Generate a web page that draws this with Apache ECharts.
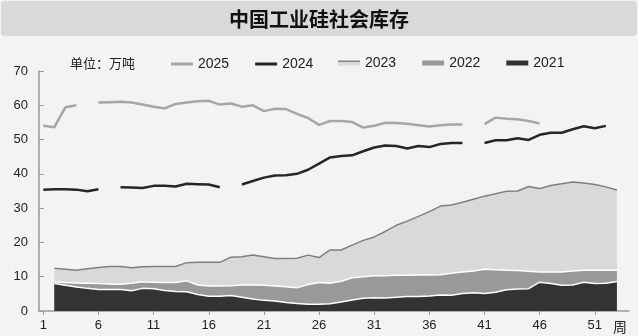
<!DOCTYPE html>
<html><head><meta charset="utf-8">
<script src="https://cdn.jsdelivr.net/npm/echarts@6/dist/echarts.min.js"></script>
<style>html,body{margin:0;padding:0;background:#f3f3f3;}#c{width:638px;height:336px;}</style>
</head><body><div id="c"></div>
<script>
const chartTitle = '中国工业硅社会库存';
const unitLabel = '单位：万吨';
const xAxisName = '周';
const weeks = [1,2,3,4,5,6,7,8,9,10,11,12,13,14,15,16,17,18,19,20,21,22,23,24,25,26,27,28,29,30,31,32,33,34,35,36,37,38,39,40,41,42,43,44,45,46,47,48,49,50,51,52,53];
const xTicks = [1,6,11,16,21,26,31,36,41,46,51];
const seriesNames = ['2025','2024','2023','2022','2021'];
const s2025 = [54.0,53.6,59.4,60.0,null,60.8,60.9,61.0,60.8,60.2,59.6,59.1,60.4,60.8,61.2,61.3,60.2,60.5,59.6,60.0,58.3,59.0,58.9,57.5,56.3,54.3,55.4,55.4,55.1,53.5,54.0,54.9,54.8,54.6,54.2,53.8,54.2,54.4,54.4,null,54.5,56.4,56.1,55.9,55.4,54.7,null,null,null,null,null,null,null];
const s2024 = [35.4,35.5,35.5,35.4,34.9,35.5,null,36.1,36.0,35.9,36.5,36.5,36.3,37.1,37.0,36.9,36.1,null,36.9,37.9,38.9,39.5,39.6,40.0,41.2,43.0,44.8,45.2,45.4,46.6,47.7,48.3,48.1,47.4,48.1,47.8,48.7,49.0,49.0,null,49.0,49.8,49.8,50.4,49.9,51.4,52.0,52.0,53.0,53.9,53.3,54.0,null];
const s2023 = [null,12.5,12.2,11.9,12.3,12.7,13.0,13.0,12.6,12.9,13.0,13.0,13.0,14.1,14.2,14.2,14.2,15.7,15.8,16.3,15.8,15.3,15.3,15.4,16.3,15.6,17.8,17.8,19.2,20.6,21.6,23.2,25.0,26.2,27.6,29.0,30.6,30.9,31.7,32.6,33.5,34.2,34.9,35.0,36.3,35.7,36.6,37.1,37.6,37.3,36.9,36.2,35.3];
const s2022 = [null,8.5,8.3,8.2,8.1,8.0,7.9,7.8,8.1,8.5,8.4,8.3,8.3,8.8,7.6,7.3,7.3,7.4,7.6,7.6,7.5,7.3,7.1,6.8,7.7,8.3,8.1,8.7,9.7,10.0,10.3,10.3,10.4,10.4,10.5,10.5,10.6,11.0,11.4,11.7,12.2,12.0,11.9,11.8,11.6,11.4,11.4,11.4,11.7,11.9,11.9,11.9,11.9];
const s2021 = [null,8.0,7.5,7.0,6.6,6.3,6.3,6.3,5.9,6.6,6.5,6.0,5.7,5.6,4.8,4.3,4.3,4.5,4.0,3.5,3.1,2.9,2.5,2.2,2.0,2.0,2.1,2.6,3.2,3.7,3.9,3.8,4.0,4.2,4.2,4.4,4.7,4.6,5.1,5.3,5.1,5.5,6.2,6.4,6.5,8.4,8.0,7.5,7.6,8.4,8.0,8.1,8.6];

const pairs = arr => weeks.map((w, i) => [w, arr[i]]);
const FONT = '"Liberation Sans", Arial, "Noto Sans CJK SC", sans-serif';
const CJK = '"Noto Sans CJK SC", sans-serif';

const chart = echarts.init(document.getElementById('c'), null, {renderer: 'canvas'});
const option = {
  animation: false,
  backgroundColor: '#f3f3f3',
  textStyle: {fontFamily: FONT},
  graphic: [
    {type: 'rect', shape: {x: 1, y: 1, width: 636, height: 35, r: 4}, style: {fill: '#d9d9d9'}, z: -1},
    {type: 'text', x: 319, y: 19, style: {text: chartTitle, font: 'bold 20px ' + CJK, fill: '#111', align: 'center', verticalAlign: 'middle'}},
    {type: 'text', x: 70, y: 63, style: {text: unitLabel, font: '13px ' + CJK, fill: '#222', verticalAlign: 'middle'}},
    {type: 'text', x: 620, y: 327, style: {text: xAxisName, font: '14px ' + CJK, fill: '#222', align: 'center', verticalAlign: 'middle'}}
  ],
  legend: [
    {left: 166, top: 52, itemWidth: 22, itemHeight: 3, itemGap: 26,
     textStyle: {fontSize: 14, color: '#222', fontFamily: FONT},
     data: [
       {name: seriesNames[0], icon: 'rect', itemStyle: {color: '#a6a6a6'}},
       {name: seriesNames[1], icon: 'rect', itemStyle: {color: '#262626'}}
     ]},
    {left: 333, top: 51, itemWidth: 22, itemHeight: 5, itemGap: 26,
     textStyle: {fontSize: 14, color: '#222', fontFamily: FONT},
     data: [
       {name: seriesNames[2], icon: 'rect', itemStyle: {color: {type: 'linear', x: 0, y: 0, x2: 0, y2: 1, colorStops: [
         {offset: 0, color: '#858585'}, {offset: 0.35, color: '#858585'}, {offset: 0.36, color: '#d9d9d9'}, {offset: 1, color: '#d9d9d9'}]}}},
       {name: seriesNames[3], icon: 'rect', itemStyle: {color: '#999999'}},
       {name: seriesNames[4], icon: 'rect', itemStyle: {color: '#333333'}}
     ]}
  ],
  grid: {left: 39, right: 9, top: 71, bottom: 25},
  xAxis: {
    type: 'value', min: 0.61, max: 54.1,
    axisLine: {show: true, lineStyle: {color: '#9a9a9a', width: 1.5}},
    axisTick: {show: true, customValues: xTicks, length: 4, lineStyle: {color: '#9a9a9a'}},
    axisLabel: {customValues: xTicks, margin: 8, fontSize: 13, color: '#222', fontFamily: FONT},
    splitLine: {show: false}
  },
  yAxis: {
    type: 'value', min: 0, max: 70, interval: 10,
    axisLine: {show: true, lineStyle: {color: '#9a9a9a', width: 1.5}},
    axisTick: {show: true, inside: true, length: 5, lineStyle: {color: '#9a9a9a'}},
    axisLabel: {margin: 11, fontSize: 13, color: '#222', fontFamily: FONT},
    splitLine: {show: false}
  },
  series: [
    {name: seriesNames[2], type: 'line', data: pairs(s2023), symbol: 'none', z: 2,
     lineStyle: {color: '#7f7f7f', width: 1.5}, itemStyle: {color: '#d9d9d9'},
     areaStyle: {color: '#d9d9d9', opacity: 1}},
    {name: seriesNames[3], type: 'line', data: pairs(s2022), symbol: 'none', z: 3,
     lineStyle: {color: '#ffffff', width: 1.5}, itemStyle: {color: '#999999'},
     areaStyle: {color: '#999999', opacity: 1}},
    {name: seriesNames[4], type: 'line', data: pairs(s2021), symbol: 'none', z: 4,
     lineStyle: {color: '#ffffff', width: 1.5}, itemStyle: {color: '#333333'},
     areaStyle: {color: '#333333', opacity: 1}},
    {name: seriesNames[0], type: 'line', data: pairs(s2025), symbol: 'none', z: 5,
     lineStyle: {color: '#a6a6a6', width: 2.5}, itemStyle: {color: '#a6a6a6'}},
    {name: seriesNames[1], type: 'line', data: pairs(s2024), symbol: 'none', z: 5,
     lineStyle: {color: '#262626', width: 2.5}, itemStyle: {color: '#262626'}}
  ]
};
chart.setOption(option);
</script>
</body></html>
